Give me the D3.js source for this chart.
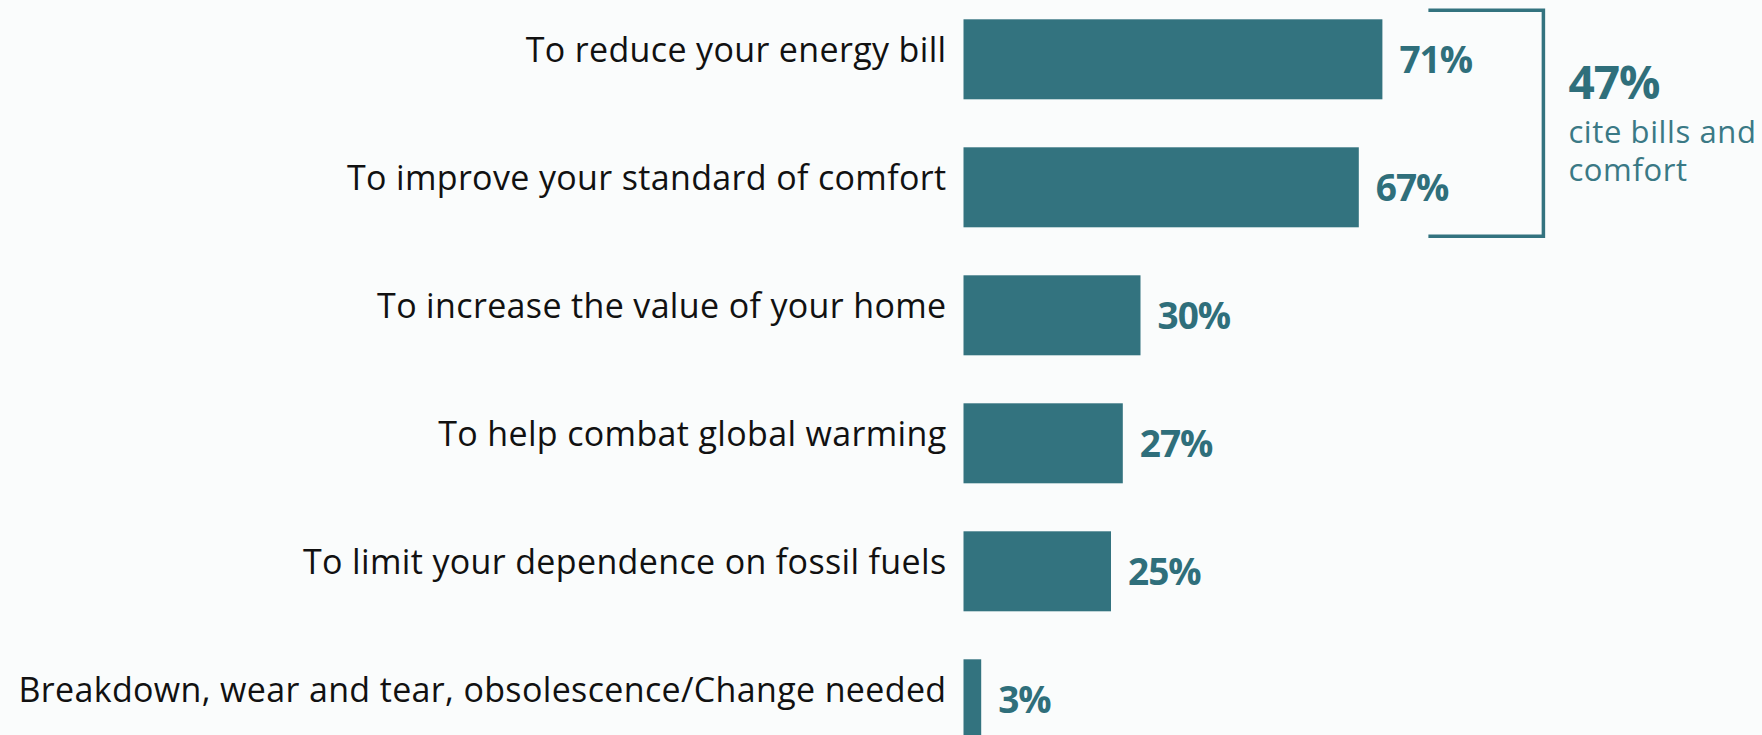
<!DOCTYPE html>
<html>
<head>
<meta charset="utf-8">
<script src="https://cdn.jsdelivr.net/npm/d3@7"></script>
<style>
  html, body { margin: 0; padding: 0; background: #fafcfc; }
  svg { display: block; }
  .category { font-family: 'Open Sans', sans-serif; font-size: 34px; letter-spacing: 0.35px; fill: #111; }
  .value { font-family: 'Open Sans', sans-serif; font-weight: 700; font-size: 37px; fill: #2f6f7b; letter-spacing: -1px; }
  .note-big { font-family: 'Open Sans', sans-serif; font-weight: 700; font-size: 46px; fill: #2f6f7b; letter-spacing: -1px; }
  .note { font-family: 'Open Sans', sans-serif; font-size: 31px; letter-spacing: 0.6px; fill: #3a7985; }
</style>
</head>
<body>
<div id="chart"></div>
<script>
const categories = [
  'To reduce your energy bill',
  'To improve your standard of comfort',
  'To increase the value of your home',
  'To help combat global warming',
  'To limit your dependence on fossil fuels',
  'Breakdown, wear and tear, obsolescence/Change needed'
];
const values = [71, 67, 30, 27, 25, 3];
const noteValue = '47%';
const noteLines = ['cite bills and', 'comfort'];

const width = 1762;
const height = 735;
const barColor = '#33737f';

let svg = d3.select('#chart').append('svg')
  .attr('width', width)
  .attr('height', height)

svg.append('rect')
  .attr('width', width)
  .attr('height', height)
  .attr('fill', '#fafcfc')

let scaleX = d3.scaleLinear()
  .domain([0, 100])
  .range([963.5, 963.5 + 590])

let scaleY = d3.scaleBand()
  .domain(categories)
  .range([19.3, 739.3])
  .paddingInner(0.375)
  .paddingOuter(0)

let rows = svg.selectAll('g.row')
  .data(categories.map((c, i) => ({name: c, value: values[i]})))
  .enter().append('g')
    .classed('row', true)

rows.append('rect')
  .attr('x', scaleX(0))
  .attr('y', d => scaleY(d.name))
  .attr('width', d => scaleX(d.value) - scaleX(0))
  .attr('height', scaleY.bandwidth())
  .attr('fill', barColor)

rows.append('text')
  .classed('category', true)
  .attr('x', scaleX(0) - 17)
  .attr('y', d => scaleY(d.name) + scaleY.bandwidth() / 2 + 3)
  .attr('text-anchor', 'end')
  .text(d => d.name)

rows.append('text')
  .classed('value', true)
  .attr('x', d => scaleX(d.value) + 17)
  .attr('y', d => scaleY(d.name) + scaleY.bandwidth() / 2 + 14)
  .text(d => d.value + '%')

// bracket around the first two bars
let bracketTop = scaleY(categories[0]) - 9;
let bracketBottom = scaleY(categories[1]) + scaleY.bandwidth() + 9;
let bracketLeft = scaleX(values[0]) + 46;
let bracketRight = bracketLeft + 115;

svg.append('path')
  .attr('d', `M${bracketLeft},${bracketTop} H${bracketRight} V${bracketBottom} H${bracketLeft}`)
  .attr('fill', 'none')
  .attr('stroke', barColor)
  .attr('stroke-width', 3.5)

svg.append('text')
  .classed('note-big', true)
  .attr('x', bracketRight + 25)
  .attr('y', 99)
  .text(noteValue)

svg.selectAll('text.note')
  .data(noteLines)
  .enter().append('text')
    .classed('note', true)
    .attr('x', bracketRight + 25)
    .attr('y', (d, i) => 143 + i * 38)
    .text(d => d)
</script>
</body>
</html>
